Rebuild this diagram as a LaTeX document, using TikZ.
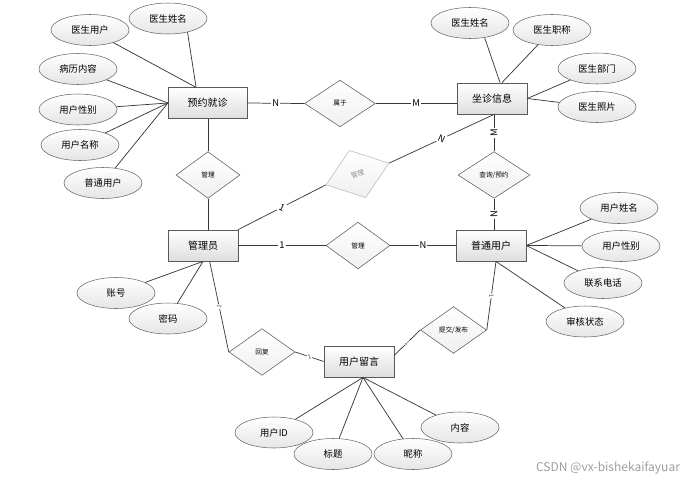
\documentclass[tikz,border=0pt]{standalone}
\usepackage{fontspec}
\setmainfont{Noto Sans CJK SC}
\usetikzlibrary{shapes.geometric}
\tikzset{
  entity/.style={draw=black!65, rectangle, top color=white, bottom color=black!13, minimum width=52.5pt, minimum height=23.5pt, inner sep=0pt, font=\fontsize{7.5}{9}\selectfont},
  attrib/.style={draw=black!60, ellipse, top color=white, bottom color=black!10, minimum width=58.5pt, minimum height=23.25pt, inner sep=0pt, font=\fontsize{7}{8}\selectfont},
  relation/.style={draw=black!65, diamond, top color=white, bottom color=black!6, minimum width=49.5pt, minimum height=35pt, inner sep=0pt, font=\fontsize{5}{6}\selectfont},
  card/.style={fill=white, inner sep=0.8pt, font=\fontsize{7}{8}\selectfont},
  tinycard/.style={fill=white, inner sep=0.4pt, text=black!70, font=\fontsize{4.5}{5}\selectfont},
  link/.style={draw=black!78, line width=0.55pt}
}
\begin{document}
\begin{tikzpicture}[x=0.75pt,y=0.75pt,yscale=-1,xscale=1]
\useasboundingbox (0,0) rectangle (689,482);
% Entities
\node[entity, minimum width=59pt] (yy) at (207.5,103) {预约就诊};
\node[entity] (zz) at (492,98.5) {坐诊信息};
\node[entity] (gl) at (203,245.5) {管理员};
\node[entity] (pt) at (491,245.5) {普通用户};
\node[entity] (ly) at (359,361.5) {用户留言};
% Relations
\node[relation, minimum width=53pt] (sy) at (340,103.5) {属于};
\node[relation, minimum width=48pt] (gla) at (208,175) {管理};
\node[relation, draw=black!28, text=black!45, minimum width=50pt, minimum height=37.5pt, rotate=19] (glb) at (357.5,174) {管理};
\node[relation, minimum width=54pt] (cx) at (494,175) {查询/预约};
\node[relation, minimum width=48pt] (glc) at (358,245.5) {管理};
\node[relation] (tj) at (453.5,330) {提交/发布};
\node[relation] (hf) at (262,352) {回复};
% Attributes of 预约就诊
\node[attrib] (a1) at (168,18.5) {医生姓名};
\node[attrib] (a2) at (90,30) {医生用户};
\node[attrib] (a3) at (78,69) {病历内容};
\node[attrib] (a4) at (78,109.5) {用户性别};
\node[attrib] (a5) at (80,145) {用户名称};
\node[attrib] (a6) at (103,183) {普通用户};
% Attributes of 坐诊信息
\node[attrib] (b1) at (470,23) {医生姓名};
\node[attrib] (b2) at (552,30) {医生职称};
\node[attrib] (b3) at (597,68.5) {医生部门};
\node[attrib] (b4) at (597,107) {医生照片};
% Attributes of 管理员
\node[attrib] (c1) at (116,293) {账号};
\node[attrib] (c2) at (168,318.5) {密码};
% Attributes of 普通用户
\node[attrib] (d1) at (619,208) {用户姓名};
\node[attrib] (d2) at (621,246) {用户性别};
\node[attrib] (d3) at (603,283) {联系电话};
\node[attrib] (d4) at (585,321.5) {审核状态};
% Attributes of 用户留言
\node[attrib] (e1) at (274,432.5) {用户ID};
\node[attrib] (e2) at (333,454) {标题};
\node[attrib] (e3) at (413,454) {昵称};
\node[attrib] (e4) at (460,427.5) {内容};
%Straight Lines
\draw[link] (a1.-35) -- ([xshift=-8.6pt]yy.north);
\draw[link] (a2) -- ([xshift=-9pt]yy.north);
\draw[link] (a3) -- (yy.west);
\draw[link] (a4) -- (yy.west);
\draw[link] (a5) -- (yy.west);
\draw[link] (a6) -- (yy.west);
\draw[link] (b1.-45) -- ([xshift=6pt]zz.north);
\draw[link] (b2) -- ([xshift=7.5pt]zz.north);
\draw[link] (b3) -- (zz.east);
\draw[link] (b4) -- (zz.east);
\draw[link] (c1) -- (gl.south);
\draw[link] (c2) -- (gl.south);
\draw[link] (d1) -- (pt.east);
\draw[link] (d2) -- (pt.east);
\draw[link] (d3) -- (pt.east);
\draw[link] (d4) -- ([xshift=3.75pt]pt.south);
\draw[link] (e1) -- ([xshift=3pt]ly.south);
\draw[link] (e2) -- ([xshift=3pt]ly.south);
\draw[link] (e3) -- ([xshift=3pt]ly.south);
\draw[link] (e4) -- ([xshift=3pt]ly.south);
%Relation Lines
\draw[link] (yy.east) -- node[card] {N} (sy.west);
\draw[link] (sy.east) -- node[card] {M} (sy.east -| zz.west);
\draw[link] (yy.south -| gla.north) -- (gla.north);
\draw[link] (gla.south) -- (gla.south |- gl.north);
\draw[link] (gl.north east) -- node[card, sloped] {1} (glb.west);
\draw[link] (glb.east) -- node[card, sloped] {N} ([xshift=1.5pt]zz.south);
\draw[link] (cx.north |- zz.south) -- node[card, sloped] {M} (cx.north);
\draw[link] (cx.south) -- node[card, sloped] {N} (cx.south |- pt.north);
\draw[link] (gl.east) -- node[card] {1} (glc.west);
\draw[link] (glc.east) -- node[card] {N} (pt.west);
\draw[link] ([xshift=5pt]gl.south) -- node[tinycard, sloped] {1} (hf.west);
\draw[link] (hf.east) -- node[tinycard, sloped] {1} (ly.west);
\draw[link] (ly.10) -- node[tinycard, sloped] {1} (tj.west);
\draw[link] (tj.east) -- node[tinycard, sloped] {1} ([xshift=3.75pt]pt.south);
% Text Node
\node[text=black!38, font=\fontsize{9}{10}\selectfont] (wm) at (608,468) {CSDN @vx-bishekaifayuar};
\end{tikzpicture}
\end{document}
